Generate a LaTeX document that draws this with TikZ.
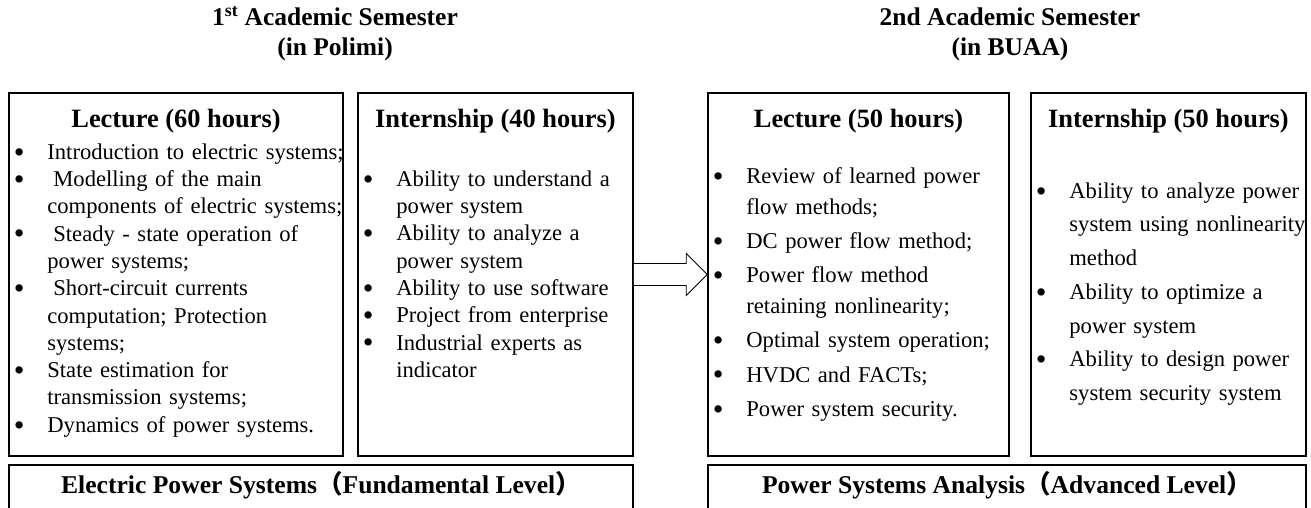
\documentclass[tikz,border=0pt]{standalone}
\usepackage{fontspec}
\setmainfont{Liberation Serif}
\newfontfamily\cjk{Noto Sans CJK SC}
\usetikzlibrary{positioning,calc}

\begin{document}
\begin{tikzpicture}
[x=1pt,y=-1pt,
box/.style={draw,line width=1.6pt,inner sep=0pt},
hdr/.style={anchor=base,inner sep=0pt,font=\fontsize{26.4}{30}\selectfont\bfseries},
bullets/.style={anchor=base west,inner sep=0pt,text width=400pt,font=\fontsize{22.6}{#1}\selectfont},
ttl/.style={align=center,inner sep=0pt,font=\fontsize{25.5}{30}\selectfont\bfseries},
lvl/.style={anchor=base,inner sep=0pt,font=\fontsize{25.6}{30}\selectfont\bfseries},
blockarrow/.style={draw,line width=0.8pt,fill=white,line join=miter}
]
\newcommand{\bul}[1]{\hangindent=37pt\hangafter=1\noindent\makebox[37pt][l]{\hspace{3.5pt}\raisebox{-2.8pt}{\scalebox{1.35}{\textbullet}}}#1\par}
\useasboundingbox (0,0) rectangle (1311,508);
%% semesters
\node[ttl] (semA) at (335,34) {1\textsuperscript{st} Academic Semester\\(in Polimi)};
\node[ttl] (semB) at (1010,34) {2nd Academic Semester\\(in BUAA)};
%% boxes
\node[box,minimum width=334pt,minimum height=363pt] (lecA) at (176,274.5) {};
\node[box,minimum width=275pt,minimum height=363pt] (intA) at (495.5,274.5) {};
\node[box,minimum width=301pt,minimum height=363pt] (lecB) at (858.5,274.5) {};
\node[box,minimum width=275pt,minimum height=363pt] (intB) at (1168.5,274.5) {};
\node[box,minimum width=624pt,minimum height=60pt] (botA) at (321,495) {};
\node[box,minimum width=598pt,minimum height=60pt] (botB) at (1007,495) {};
%% headers
\node[hdr] (lecAhdr) at ($(lecA.north)+(0,35)$) {Lecture (60 hours)};
\node[hdr] (intAhdr) at ($(intA.north)+(0,35)$) {Internship (40 hours)};
\node[hdr] (lecBhdr) at ($(lecB.north)+(0,35)$) {Lecture (50 hours)};
\node[hdr] (intBhdr) at ($(intB.north)+(0,35)$) {Internship (50 hours)};
%% lists
\node[bullets=27.3pt] (lecAlist) at ($(lecA.north west)+(2,67)$) {%
\bul{Introduction to electric systems;}
\bul{\hspace{6pt}Modelling of the main\newline components of electric systems;}
\bul{\hspace{6pt}Steady - state operation of\newline power systems;}
\bul{\hspace{6pt}Short-circuit currents\newline computation; Protection\newline systems;}
\bul{State estimation for\newline transmission systems;}
\bul{Dynamics of power systems.}};
\node[bullets=27.3pt] (intAlist) at ($(intA.north west)+(2,94)$) {%
\bul{Ability to understand a\newline power system}
\bul{Ability to analyze a\newline power system}
\bul{Ability to use software}
\bul{Project from enterprise}
\bul{Industrial experts as\newline indicator}};
\node[bullets=31pt] (lecBlist) at ($(lecB.north west)+(2,91)$) {%
\bul{Review of learned power\newline flow methods;}
\setlength{\parskip}{3.2pt}%
\bul{DC power flow method;}
\bul{Power flow method\newline retaining nonlinearity;}
\bul{Optimal system operation;}
\bul{HVDC and FACTs;}
\bul{Power system security.}};
\node[bullets=33.7pt] (intBlist) at ($(intB.north west)+(2,106)$) {%
\bul{Ability to analyze power\newline system using nonlinearity\newline method}
\bul{Ability to optimize a\newline power system}
\bul{Ability to design power\newline system security system}};
%% levels
\node[lvl] (lvlA) at ($(botA.north)+(0,29)$) {Electric Power Systems{\cjk （}Fundamental Level{\cjk ）}};
\node[lvl] (lvlB) at ($(botB.north)+(0,29)$) {Power Systems Analysis{\cjk （}Advanced Level{\cjk ）}};
%% arrow
\draw[blockarrow] ($(intA.east)+(0,-11)$) -- ($(lecB.west)+(-21,-11)$)
-- ($(lecB.west)+(-21,-21)$) -- (lecB.west) -- ($(lecB.west)+(-21,21)$)
-- ($(lecB.west)+(-21,11)$) -- ($(intA.east)+(0,11)$);
\end{tikzpicture}
\end{document}
